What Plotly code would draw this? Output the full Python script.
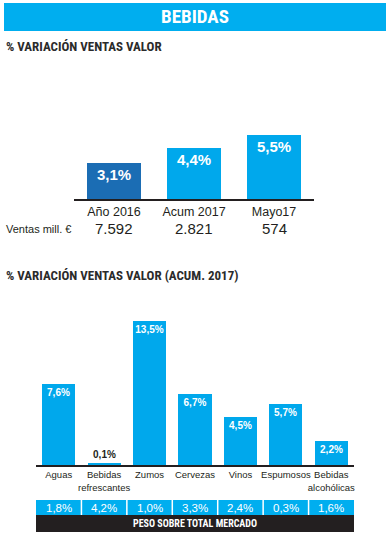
import plotly.graph_objects as go

W, H = 391, 539

# ---- data ----
top_categories = ["Año 2016", "Acum 2017", "Mayo17"]
top_variation = [3.1, 4.4, 5.5]
top_sales = ["7.592", "2.821", "574"]

cat_keys = ["Aguas", "Bebidas refrescantes", "Zumos", "Cervezas", "Vinos", "Espumosos", "Bebidas alcohólicas"]
cat_labels = ["Aguas", "Bebidas<br>refrescantes", "Zumos", "Cervezas", "Vinos", "Espumosos", "Bebidas<br>alcohólicas"]
cat_variation = [7.6, 0.1, 13.5, 6.7, 4.5, 5.7, 2.2]
cat_weight = [1.8, 4.2, 1.0, 3.3, 2.4, 0.3, 1.6]

BLUE = "#00A8EC"
HEADER = "#00AEEF"
DARK_BLUE = "#1B6DB4"
INK = "#231F20"
NARROW = "Roboto Condensed, DejaVu Sans Condensed, Arial, sans-serif"


def fmt(v):
    return f"{v:.1f}".replace(".", ",") + "%"


def py(p):
    return 1 - p / H


def px(p):
    return p / W


fig = go.Figure()

fig.add_trace(go.Bar(
    x=top_categories, y=top_variation, xaxis="x", yaxis="y",
    marker=dict(color=[DARK_BLUE, BLUE, BLUE], line=dict(width=0)),
    width=0.67,
    text=[fmt(v) for v in top_variation],
    textposition="inside", insidetextanchor="end", constraintext="none", textangle=0,
    textfont=dict(family="Arial", size=15, color="white", weight="bold"),
    cliponaxis=False, hoverinfo="skip",
))

fig.add_trace(go.Bar(
    x=cat_keys, y=cat_variation, xaxis="x2", yaxis="y2",
    marker=dict(color=BLUE, line=dict(width=0)),
    width=0.73,
    text=[fmt(v) for v in cat_variation],
    textposition=["inside" if v > 1 else "outside" for v in cat_variation],
    insidetextanchor="end", constraintext="none", textangle=0,
    insidetextfont=dict(family="Arial", size=10, color="white", weight="bold"),
    outsidetextfont=dict(family="Arial", size=10, color=INK, weight="bold"),
    cliponaxis=False, hoverinfo="skip",
))

shapes = [
    dict(type="rect", xref="paper", yref="paper", x0=px(4), x1=px(386), y0=py(31), y1=py(3),
         fillcolor=HEADER, line=dict(width=0), layer="below"),
    dict(type="rect", xref="paper", yref="paper", x0=px(36), x1=px(354), y0=py(515), y1=py(500),
         fillcolor=HEADER, line=dict(width=0)),
    dict(type="rect", xref="paper", yref="paper", x0=px(36), x1=px(354), y0=py(532), y1=py(515),
         fillcolor=INK, line=dict(width=0)),
]
for k in range(len(cat_keys) - 1):
    shapes.append(dict(type="line", xref="x2", yref="paper", x0=k + 0.5, x1=k + 0.5,
                       y0=py(515), y1=py(500), line=dict(color="white", width=1.5)))


def ann(text, x, y, xref="paper", xanchor="center", font=None):
    return dict(text=text, xref=xref, yref="paper", x=x, y=y, xanchor=xanchor, yanchor="middle",
                showarrow=False, font=font)


annotations = [
    ann("BEBIDAS", px(195), py(17), font=dict(family=NARROW, size=19, color="white", weight="bold")),
    ann("% VARIACIÓN VENTAS VALOR", px(4), py(47), xanchor="left",
        font=dict(family=NARROW, size=13, color="#2b2b2b", weight="bold")),
    ann("% VARIACIÓN VENTAS VALOR (ACUM. 2017)", px(4), py(275), xanchor="left",
        font=dict(family=NARROW, size=13, color="#2b2b2b", weight="bold")),
    ann("Ventas mill. €", px(4), py(229), xanchor="left", font=dict(family="Arial", size=11, color=INK)),
    ann("PESO SOBRE TOTAL MERCADO", px(195), py(523.5),
        font=dict(family=NARROW, size=10, color="white", weight="bold")),
]

for c, s in zip(top_categories, top_sales):
    annotations.append(ann(s, c, py(228), xref="x", font=dict(family="Arial", size=15, color=INK)))
for c, w in zip(cat_keys, cat_weight):
    annotations.append(ann(fmt(w), c, py(507.5), xref="x2", font=dict(family="Arial", size=11.5, color="white")))

fig.update_layout(
    width=W, height=H, autosize=False,
    margin=dict(l=0, r=0, t=0, b=0),
    paper_bgcolor="white", plot_bgcolor="white",
    showlegend=False, bargap=0,
    shapes=shapes, annotations=annotations,
    xaxis=dict(domain=[px(74), px(314)], range=[-0.5, 2.5], anchor="y",
               showline=True, linecolor=INK, linewidth=2, showgrid=False, zeroline=False,
               ticks="", tickangle=0, tickfont=dict(family="Arial", size=12.5, color=INK), fixedrange=True),
    yaxis=dict(domain=[py(199), py(116.75)], range=[0, 7], visible=False, fixedrange=True),
    xaxis2=dict(domain=[px(36), px(354)], range=[-0.5, 6.5], anchor="y2",
                showline=True, linecolor=INK, linewidth=1.5, showgrid=False, zeroline=False,
                ticks="", tickangle=0, tickmode="array", tickvals=cat_keys, ticktext=cat_labels,
                tickfont=dict(family="Arial", size=9.5, color=INK), fixedrange=True),
    yaxis2=dict(domain=[py(465), py(316.3)], range=[0, 14], visible=False, fixedrange=True),
)

fig.write_html("out.html", config={"displayModeBar": False},
               post_script="document.body.style.margin='0';document.body.style.overflow='hidden';")
